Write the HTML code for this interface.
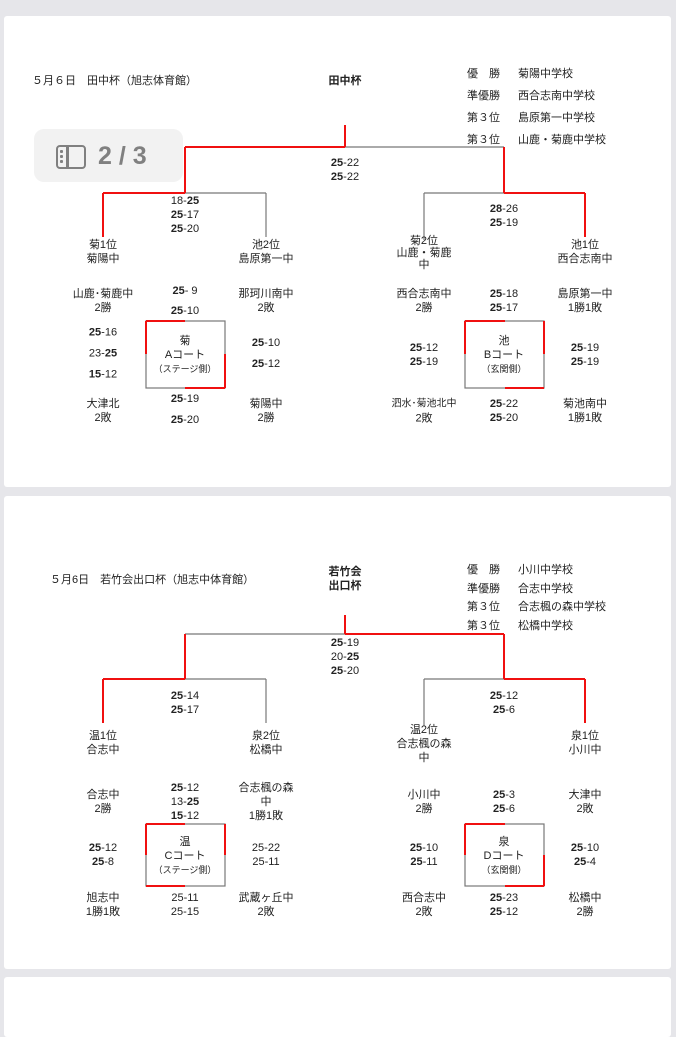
<!DOCTYPE html>
<html><head><meta charset="utf-8">
<style>
html,body{margin:0;padding:0}
body{width:676px;height:1024px;background:#e6e6ea;position:relative;overflow:hidden;font-family:"Liberation Sans","Noto Sans CJK JP",sans-serif;color:#222}
.pg{position:absolute;left:4px;width:667px;background:#fff;border-radius:3px}
.c{position:absolute;transform:translate(-50%,-50%);white-space:nowrap;text-align:center;font-size:11px;line-height:14px}
.l{position:absolute;white-space:nowrap;font-size:11px;line-height:14px}
b{font-weight:bold}
.s{font-size:9px;line-height:12px}
svg{position:absolute;left:0;top:0}
.d{position:absolute;left:60px;width:3px;height:3px;background:#808080;border-radius:1px}
</style></head><body>
<div class="pg" style="top:16px;height:471px"></div>
<div class="pg" style="top:496px;height:473px"></div>
<div class="pg" style="top:977px;height:60px"></div>

<svg width="676" height="1024" fill="none" stroke-width="1.2">
<g stroke="#777">
<line x1="345" y1="147" x2="504" y2="147"/>
<line x1="185" y1="193" x2="266" y2="193"/><line x1="266" y1="193" x2="266" y2="237"/>
<line x1="424" y1="193" x2="504" y2="193"/><line x1="424" y1="193" x2="424" y2="240"/>
<rect x="146" y="321" width="79" height="67"/>
<rect x="465" y="321" width="79" height="67"/>
</g>
<g stroke="#f01010" stroke-width="2">
<line x1="345" y1="125" x2="345" y2="147"/><line x1="185" y1="147" x2="345" y2="147"/>
<line x1="185" y1="147" x2="185" y2="193"/><line x1="504" y1="147" x2="504" y2="193"/>
<line x1="103" y1="193" x2="185" y2="193"/><line x1="103" y1="193" x2="103" y2="237"/>
<line x1="504" y1="193" x2="585" y2="193"/><line x1="585" y1="193" x2="585" y2="237"/>
<line x1="146" y1="321" x2="185" y2="321"/><line x1="146" y1="321" x2="146" y2="354"/>
<line x1="225" y1="354" x2="225" y2="388"/><line x1="185" y1="388" x2="225" y2="388"/>
<line x1="465" y1="321" x2="505" y2="321"/><line x1="465" y1="321" x2="465" y2="354"/>
<line x1="544" y1="321" x2="544" y2="354"/><line x1="505" y1="388" x2="544" y2="388"/>
</g>
<g stroke="#777">
<line x1="185" y1="634" x2="345" y2="634"/>
<line x1="185" y1="679" x2="266" y2="679"/><line x1="266" y1="679" x2="266" y2="723"/>
<line x1="424" y1="679" x2="504" y2="679"/><line x1="424" y1="679" x2="424" y2="726"/>
<rect x="146" y="824" width="79" height="62"/>
<rect x="465" y="824" width="79" height="62"/>
</g>
<g stroke="#f01010" stroke-width="2">
<line x1="345" y1="615" x2="345" y2="634"/><line x1="345" y1="634" x2="504" y2="634"/>
<line x1="185" y1="634" x2="185" y2="679"/><line x1="504" y1="634" x2="504" y2="679"/>
<line x1="103" y1="679" x2="185" y2="679"/><line x1="103" y1="679" x2="103" y2="723"/>
<line x1="504" y1="679" x2="585" y2="679"/><line x1="585" y1="679" x2="585" y2="723"/>
<line x1="146" y1="824" x2="185" y2="824"/><line x1="146" y1="824" x2="146" y2="855"/>
<line x1="225" y1="824" x2="225" y2="855"/><line x1="146" y1="886" x2="185" y2="886"/>
<line x1="465" y1="824" x2="505" y2="824"/><line x1="465" y1="824" x2="465" y2="855"/>
<line x1="544" y1="855" x2="544" y2="886"/><line x1="505" y1="886" x2="544" y2="886"/>
</g>
</svg>

<div style="position:absolute;left:34px;top:129px;width:149px;height:53px;background:#f2f2f2;border-radius:10px"></div>
<div style="position:absolute;left:56px;top:145px;width:26px;height:20px;border:2.5px solid #808080;border-radius:4px"></div>
<div style="position:absolute;left:66px;top:145px;width:2.5px;height:24px;background:#808080"></div>
<div class="d" style="top:150px"></div><div class="d" style="top:155px"></div><div class="d" style="top:160px"></div>
<div style="position:absolute;left:98px;top:139px;font-size:25px;font-weight:bold;color:#808080;line-height:34px">2 / 3</div>

<div class="l" style="left:32px;top:74px">５月６日　田中杯（旭志体育館）</div>
<div class="c" style="left:345px;top:81px"><b>田中杯</b></div>
<div class="l" style="left:467px;top:63px;line-height:22px">優　勝<br>準優勝<br>第３位<br>第３位</div>
<div class="l" style="left:518px;top:63px;line-height:22px">菊陽中学校<br>西合志南中学校<br>島原第一中学校<br>山鹿・菊鹿中学校</div>
<div class="c" style="left:345px;top:170px"><b>25</b>-22<br><b>25</b>-22</div>
<div class="c" style="left:185px;top:215px">18-<b>25</b><br><b>25</b>-17<br><b>25</b>-20</div>
<div class="c" style="left:504px;top:216px"><b>28</b>-26<br><b>25</b>-19</div>
<div class="c" style="left:103px;top:252px">菊1位<br>菊陽中</div>
<div class="c" style="left:266px;top:252px">池2位<br>島原第一中</div>
<div class="c" style="left:424px;top:253px;line-height:12px">菊2位<br>山鹿・菊鹿<br>中</div>
<div class="c" style="left:585px;top:252px">池1位<br>西合志南中</div>

<div class="c" style="left:103px;top:301px">山鹿･菊鹿中<br>2勝</div>
<div class="c" style="left:185px;top:301px;line-height:20px"><b>25</b>- 9<br><b>25</b>-10</div>
<div class="c" style="left:266px;top:301px">那珂川南中<br>2敗</div>
<div class="c" style="left:103px;top:354px;line-height:21px"><b>25</b>-16<br>23-<b>25</b><br><b>15</b>-12</div>
<div class="c" style="left:185px;top:355px">菊<br>Aコート<br><span class="s">（ステージ側）</span></div>
<div class="c" style="left:266px;top:354px;line-height:21px"><b>25</b>-10<br><b>25</b>-12</div>
<div class="c" style="left:103px;top:411px">大津北<br>2敗</div>
<div class="c" style="left:185px;top:410px;line-height:21px"><b>25</b>-19<br><b>25</b>-20</div>
<div class="c" style="left:266px;top:411px">菊陽中<br>2勝</div>

<div class="c" style="left:424px;top:301px">西合志南中<br>2勝</div>
<div class="c" style="left:504px;top:301px"><b>25</b>-18<br><b>25</b>-17</div>
<div class="c" style="left:585px;top:301px">島原第一中<br>1勝1敗</div>
<div class="c" style="left:424px;top:355px"><b>25</b>-12<br><b>25</b>-19</div>
<div class="c" style="left:504px;top:355px">池<br>Bコート<br><span class="s">（玄関側）</span></div>
<div class="c" style="left:585px;top:355px"><b>25</b>-19<br><b>25</b>-19</div>
<div class="c" style="left:424px;top:411px"><span style="font-size:10px">泗水･菊池北中</span><br>2敗</div>
<div class="c" style="left:504px;top:411px"><b>25</b>-22<br><b>25</b>-20</div>
<div class="c" style="left:585px;top:411px">菊池南中<br>1勝1敗</div>

<div class="l" style="left:50px;top:573px">５月6日　若竹会出口杯（旭志中体育館）</div>
<div class="c" style="left:345px;top:579px"><b>若竹会<br>出口杯</b></div>
<div class="l" style="left:467px;top:561px;line-height:18.5px">優　勝<br>準優勝<br>第３位<br>第３位</div>
<div class="l" style="left:518px;top:561px;line-height:18.5px">小川中学校<br>合志中学校<br>合志楓の森中学校<br>松橋中学校</div>
<div class="c" style="left:345px;top:657px"><b>25</b>-19<br>20-<b>25</b><br><b>25</b>-20</div>
<div class="c" style="left:185px;top:703px"><b>25</b>-14<br><b>25</b>-17</div>
<div class="c" style="left:504px;top:703px"><b>25</b>-12<br><b>25</b>-6</div>
<div class="c" style="left:103px;top:743px">温1位<br>合志中</div>
<div class="c" style="left:266px;top:743px">泉2位<br>松橋中</div>
<div class="c" style="left:424px;top:744px">温2位<br>合志楓の森<br>中</div>
<div class="c" style="left:585px;top:743px">泉1位<br>小川中</div>

<div class="c" style="left:103px;top:802px">合志中<br>2勝</div>
<div class="c" style="left:185px;top:802px"><b>25</b>-12<br>13-<b>25</b><br><b>15</b>-12</div>
<div class="c" style="left:266px;top:802px">合志楓の森<br>中<br>1勝1敗</div>
<div class="c" style="left:103px;top:855px"><b>25</b>-12<br><b>25</b>-8</div>
<div class="c" style="left:185px;top:856px">温<br>Cコート<br><span class="s">（ステージ側）</span></div>
<div class="c" style="left:266px;top:855px">25-22<br>25-11</div>
<div class="c" style="left:103px;top:905px">旭志中<br>1勝1敗</div>
<div class="c" style="left:185px;top:905px">25-11<br>25-15</div>
<div class="c" style="left:266px;top:905px">武蔵ヶ丘中<br>2敗</div>

<div class="c" style="left:424px;top:802px">小川中<br>2勝</div>
<div class="c" style="left:504px;top:802px"><b>25</b>-3<br><b>25</b>-6</div>
<div class="c" style="left:585px;top:802px">大津中<br>2敗</div>
<div class="c" style="left:424px;top:855px"><b>25</b>-10<br><b>25</b>-11</div>
<div class="c" style="left:504px;top:856px">泉<br>Dコート<br><span class="s">（玄関側）</span></div>
<div class="c" style="left:585px;top:855px"><b>25</b>-10<br><b>25</b>-4</div>
<div class="c" style="left:424px;top:905px">西合志中<br>2敗</div>
<div class="c" style="left:504px;top:905px"><b>25</b>-23<br><b>25</b>-12</div>
<div class="c" style="left:585px;top:905px">松橋中<br>2勝</div>
</body></html>
